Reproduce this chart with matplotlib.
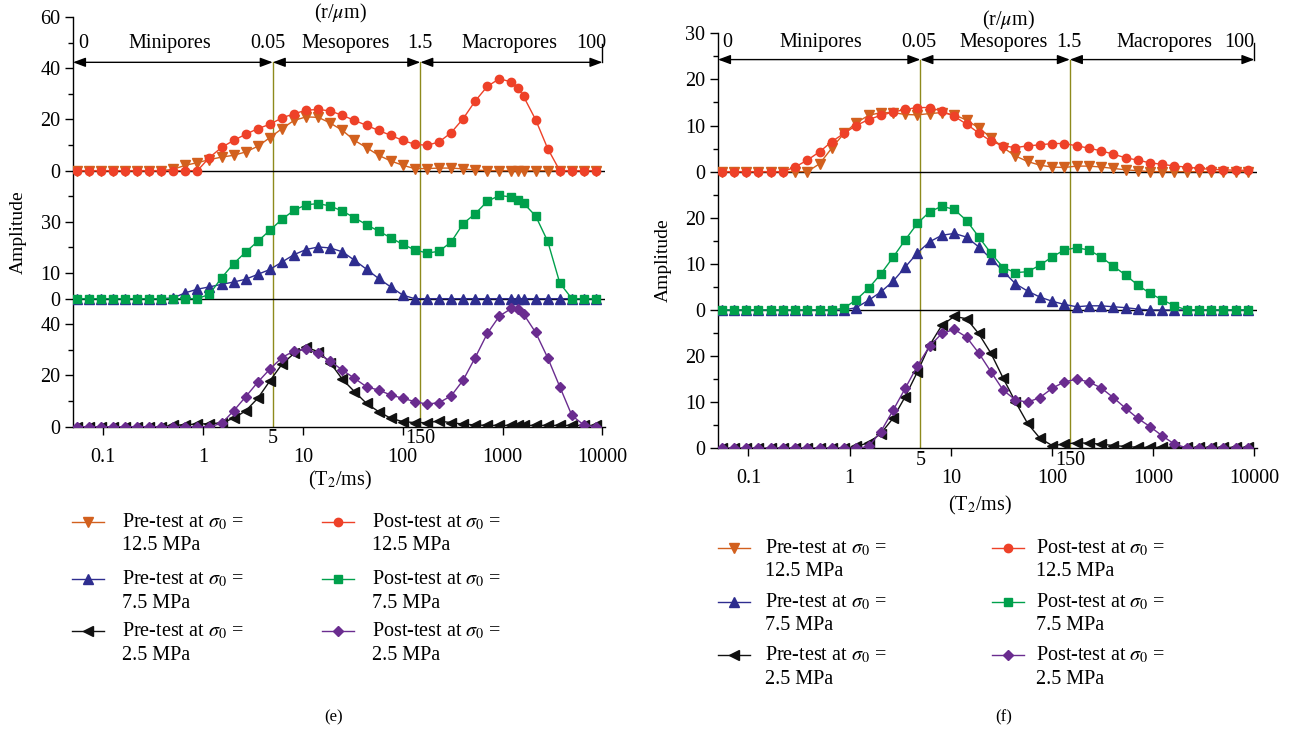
import numpy as np
import matplotlib
matplotlib.use("Agg")
import matplotlib.pyplot as plt
from matplotlib.lines import Line2D
from matplotlib.patches import ArrowStyle

plt.rcParams['font.family'] = ['Liberation Serif', 'DejaVu Serif']
plt.rcParams['mathtext.fontset'] = 'stix'
plt.rcParams['font.size'] = 14

FS_TICK = 14.5
FS_NOTE = 14.5
FS_LEG = 14.5

# ---------------- data ----------------
# T2 relaxation times (ms); panel (e) has one extra sample near 1400 ms
T2_e = [0.0543, 0.0718, 0.0948, 0.125, 0.166, 0.219, 0.289, 0.382, 0.504, 0.666,
        0.879, 1.16, 1.54, 2.03, 2.68, 3.54, 4.68, 6.18, 8.16, 10.8,
        14.3, 18.8, 24.9, 32.9, 43.4, 57.3, 75.8, 100, 132, 175,
        231, 305, 403, 532, 703, 929, 1227, 1423, 1621, 2142,
        2830, 3739, 4940, 6526, 8622]
T2_f = [0.0543, 0.0718, 0.0948, 0.125, 0.166, 0.219, 0.289, 0.382, 0.504, 0.666,
        0.879, 1.16, 1.54, 2.03, 2.68, 3.54, 4.68, 6.18, 8.16, 10.8,
        14.3, 18.8, 24.9, 32.9, 43.4, 57.3, 75.8, 100, 132, 175,
        231, 305, 403, 532, 703, 929, 1227, 1621, 2142,
        2830, 3739, 4940, 6526, 8622]

# panel (e) amplitudes
pre125_e = [0, 0, 0, 0, 0, 0, 0, 0, 0.5, 2.1, 3.1, 4.3, 5.3, 6.0, 7.3, 9.5, 12.9, 16.4,
            19.6, 21.0, 20.8, 18.6, 15.7, 11.8, 9.0, 6.0, 3.8, 2.1, 0.8, 0.8, 1.0, 1.0,
            0.7, 0.2, 0, 0, 0, 0, 0, 0, 0, 0, 0, 0, 0]
post125_e = [0, 0, 0, 0, 0, 0, 0, 0, 0, 0, 0, 5.1, 9.1, 11.8, 14.2, 16.4, 18.1, 20.6,
             22.2, 23.6, 23.9, 23.3, 21.6, 19.6, 17.7, 15.7, 13.8, 11.8, 10.3, 9.9, 11.2,
             14.8, 20.3, 27.2, 32.9, 35.9, 34.6, 32.4, 29.0, 19.9, 8.6, 0, 0, 0, 0]
pre75_e = [0, 0, 0, 0, 0, 0, 0, 0, 0.3, 2.3, 3.7, 4.6, 5.6, 6.5, 7.6, 9.5, 11.4, 14.3,
           17.2, 19.2, 20.2, 19.8, 18.3, 15.0, 11.5, 7.9, 4.6, 1.4, 0, 0, 0, 0, 0, 0,
           0, 0, 0, 0, 0, 0, 0, 0, 0, 0, 0]
post75_e = [0, 0, 0, 0, 0, 0, 0, 0, 0, 0, 0, 1.7, 8.2, 13.7, 18.2, 22.4, 26.7, 31.0,
            34.5, 36.7, 37.1, 36.2, 34.2, 31.6, 28.9, 26.4, 23.8, 21.2, 19.1, 17.8, 18.5,
            22.1, 29.3, 33.2, 38.0, 40.3, 39.7, 38.6, 37.3, 32.3, 22.4, 6.1, 0, 0, 0]
pre25_e = [0, 0, 0, 0, 0, 0, 0, 0, 0.5, 0.8, 1.0, 1.2, 1.5, 3.3, 6.2, 11.1, 17.9, 24.4,
           28.6, 31.0, 29.3, 25.0, 18.5, 13.7, 9.1, 5.9, 3.3, 2.0, 1.6, 1.6, 2.2, 1.6,
           1.0, 0.7, 0.5, 0.5, 0.5, 0.5, 0.5, 0.5, 0.5, 0.5, 0.5, 0.5, 0.5]
post25_e = [0, 0, 0, 0, 0, 0, 0, 0, 0, 0, 0, 0, 1.3, 6.2, 11.7, 17.4, 22.5, 27.0,
            29.6, 30.2, 28.6, 25.6, 22.1, 18.9, 15.6, 14.3, 12.4, 11.1, 9.8, 8.8, 9.4,
            12.0, 18.2, 27.0, 36.4, 43.2, 46.2, 45.8, 44.0, 36.8, 26.9, 15.6, 4.4, 0.6, 0]

# panel (f) amplitudes
pre125_f = [0, 0, 0, 0, 0, 0, 0, 0, 1.7, 5.1, 8.3, 10.6, 12.2, 12.8, 12.8, 12.4, 12.3,
            12.6, 12.8, 12.3, 11.2, 9.5, 7.4, 5.2, 3.4, 2.2, 1.4, 1.0, 0.9, 1.2, 1.2, 1.0,
            0.7, 0.4, 0.2, 0, 0, 0, 0, 0, 0, 0, 0, 0]
post125_f = [0, 0, 0, 0, 0, 0, 1.0, 2.5, 4.3, 6.5, 8.3, 10.0, 11.3, 12.2, 12.9, 13.5,
             13.9, 13.9, 13.1, 12.0, 10.3, 8.4, 6.6, 5.6, 5.2, 5.6, 5.8, 6.1, 6.1, 5.6,
             5.1, 4.5, 3.8, 3.0, 2.5, 1.9, 1.6, 1.2, 1.0, 0.7, 0.5, 0.4, 0.3, 0.3]
pre75_f = [0, 0, 0, 0, 0, 0, 0, 0, 0, 0, 0, 0.5, 2.1, 3.9, 6.2, 9.3, 12.4, 14.8, 16.2,
           16.6, 15.8, 13.7, 11.1, 8.4, 5.7, 4.1, 2.8, 1.9, 1.2, 0.7, 0.9, 0.9, 0.7, 0.5,
           0.2, 0, 0, 0, 0, 0, 0, 0, 0, 0]
post75_f = [0, 0, 0, 0, 0, 0, 0, 0, 0, 0, 0.4, 2.2, 4.7, 7.8, 11.4, 15.2, 18.8, 21.3,
            22.5, 21.8, 19.4, 15.9, 12.3, 9.2, 8.1, 8.3, 9.7, 11.5, 13.0, 13.5, 13.0, 11.5,
            9.5, 7.6, 5.4, 3.6, 2.2, 0.9, 0, 0, 0, 0, 0, 0]
pre25_f = [0, 0, 0, 0, 0, 0, 0, 0, 0, 0, 0, 0.4, 1.2, 3.2, 6.5, 11.2, 16.6, 22.4, 26.7,
           28.6, 28.1, 24.9, 20.6, 15.2, 10.1, 5.4, 2.2, 0.6, 0.9, 1.2, 1.1, 0.9, 0.6, 0.4,
           0.2, 0.2, 0.2, 0.2, 0.2, 0.2, 0.2, 0.2, 0.2, 0.2]
post25_f = [0, 0, 0, 0, 0, 0, 0, 0, 0, 0, 0, 0, 0.4, 3.6, 8.2, 13.0, 17.9, 22.2, 24.9,
            25.8, 24.1, 20.7, 16.6, 12.6, 10.5, 10.0, 11.0, 13.0, 14.4, 15.0, 14.4, 13.1,
            11.0, 8.7, 6.5, 4.7, 2.7, 0.9, 0.1, 0, 0, 0, 0, 0]

xticks = [0.1, 1, 10, 100, 1000, 10000]
xticklabels = ['0.1', '1', '10', '100', '1000', '10000']
pore_bounds_T2 = [5, 150]          # T2 (ms) at the pore-class boundaries
pore_bounds_r = ['0.05', '1.5']    # matching pore radii (um)
pore_names = ['Minipores', 'Mesopores', 'Macropores']

# stacking offsets of the three stress levels
offsets_e = [100, 50, 0]
offsets_f = [60, 30, 0]

ytick_pos_e = [0, 20, 40, 50, 60, 80, 100, 120, 140, 160]
ytick_lab_e = ['0', '20', '40', '0', '10', '30', '0', '20', '40', '60']
yminor_e = [10, 30, 70, 90, 110, 130, 150]
ytick_pos_f = [0, 10, 20, 30, 40, 50, 60, 70, 80, 90]
ytick_lab_f = ['0', '10', '20', '0', '10', '20', '0', '10', '20', '30']
yminor_f = [5, 15, 25, 35, 45, 55, 65, 75, 85]

# ---------------- styles ----------------
C_ORANGE = '#D2601E'
C_RED = '#EE4128'
C_BLUE = '#2E2D8F'
C_GREEN = '#00A04C'
C_BLACK = '#111111'
C_PURPLE = '#6A2C8F'
C_OLIVE = '#8E8A1C'

styles = {
    'pre125': dict(color=C_ORANGE, marker='v', ms=7),
    'post125': dict(color=C_RED, marker='o', ms=6),
    'pre75': dict(color=C_BLUE, marker='^', ms=7),
    'post75': dict(color=C_GREEN, marker='s', ms=5.5),
    'pre25': dict(color=C_BLACK, marker='<', ms=7),
    'post25': dict(color=C_PURPLE, marker='D', ms=5.5),
}

W, H = 1292, 735
fig = plt.figure(figsize=(W / 100, H / 100), dpi=100)


def fx(px):
    return px / W


def fy(py):
    return 1 - py / H


def draw_panel(ax, T2, series, offsets, ylim, tpos, tlab, tminor,
               arrow_y, text_y, title_y, xpos_text, title_x):
    keys = [('pre125', 'post125'), ('pre75', 'post75'), ('pre25', 'post25')]
    for (kpre, kpost), off in zip(keys, offsets):
        for k in (kpre, kpost):
            st = styles[k]
            y = np.asarray(series[k]) + off
            ax.plot(T2, y, color=st['color'], lw=1.0, marker=st['marker'],
                    ms=st['ms'], mec=st['color'], mfc=st['color'], zorder=3)
        if off > 0:
            ax.axhline(off, color='black', lw=1.0, zorder=2)
    ax.set_xscale('log')
    ax.set_xlim(0.05, 10600)
    ax.set_ylim(*ylim)
    ax.set_xticks(xticks)
    ax.set_xticklabels(xticklabels)
    ax.xaxis.set_minor_locator(matplotlib.ticker.NullLocator())
    ax.set_yticks(tpos)
    ax.set_yticklabels(tlab)
    ax.set_yticks(tminor, minor=True)
    ax.spines['top'].set_visible(False)
    ax.spines['right'].set_visible(False)
    for s in ('left', 'bottom'):
        ax.spines[s].set_linewidth(1.0)
    ax.tick_params(which='major', direction='out', length=6, width=1.0,
                   labelsize=FS_TICK, pad=3)
    ax.tick_params(axis='x', which='major', pad=9)
    ax.tick_params(which='minor', direction='out', length=3.5, width=1.0)

    # pore-class boundaries
    for b in pore_bounds_T2:
        ax.plot([b, b], [ylim[0], arrow_y], color=C_OLIVE, lw=1.0, zorder=1)
        ax.annotate(str(b), xy=(b, 0), xycoords=('data', 'axes fraction'),
                    xytext=(0, -2), textcoords='offset points',
                    ha='center', va='top', fontsize=FS_TICK)

    # pore range arrows
    edges = [0.05, pore_bounds_T2[0], pore_bounds_T2[1], 10000]
    astyle = ArrowStyle('<|-|>', head_length=0.75, head_width=0.28)
    for a, b in zip(edges[:-1], edges[1:]):
        ax.annotate('', xy=(b, arrow_y), xytext=(a, arrow_y),
                    arrowprops=dict(arrowstyle=astyle, color='black', lw=1.0,
                                    mutation_scale=10, shrinkA=0, shrinkB=0),
                    annotation_clip=False)
    ax.plot([10000, 10000], [arrow_y, text_y], color='black', lw=1.0,
            clip_on=False)

    labels = ['0', pore_names[0], pore_bounds_r[0], pore_names[1],
              pore_bounds_r[1], pore_names[2], '100']
    for lab, xp in zip(labels, xpos_text):
        ax.text(xp, text_y, lab, ha='center', va='center', fontsize=FS_NOTE,
                clip_on=False)
    ax.text(title_x, title_y, r'(r/$\mu$m)', ha='center', va='center',
            fontsize=FS_NOTE, clip_on=False)


series_e = dict(pre125=pre125_e, post125=post125_e, pre75=pre75_e,
                post75=post75_e, pre25=pre25_e, post25=post25_e)
series_f = dict(pre125=pre125_f, post125=post125_f, pre75=pre75_f,
                post75=post75_f, pre25=pre25_f, post25=post25_f)

ax1 = fig.add_axes([fx(73), fy(426.7), fx(605 - 73), (426.7 - 17) / H])
draw_panel(ax1, T2_e, series_e, offsets_e, (0, 160), ytick_pos_e, ytick_lab_e,
           yminor_e, arrow_y=142.3, text_y=149.5, title_y=161.5,
           xpos_text=[0.064, 0.47, 4.5, 27, 150, 1180, 7700], title_x=24)

ax2 = fig.add_axes([fx(718), fy(448.3), fx(1257 - 718), (448.3 - 33.3) / H])
draw_panel(ax2, T2_f, series_f, offsets_f, (0, 90), ytick_pos_f, ytick_lab_f,
           yminor_f, arrow_y=84.3, text_y=88.0, title_y=92.7,
           xpos_text=[0.062, 0.52, 4.8, 33, 146, 1280, 7100], title_x=37)

# axis titles
fig.text(fx(18), fy(232), 'Amplitude', rotation=90, ha='center', va='center', fontsize=14)
fig.text(fx(663), fy(260), 'Amplitude', rotation=90, ha='center', va='center', fontsize=14)
fig.text(fx(340), fy(480), r'(T$_2$/ms)', ha='center', va='center', fontsize=FS_NOTE)
fig.text(fx(980), fy(505), r'(T$_2$/ms)', ha='center', va='center', fontsize=FS_NOTE)

# captions
fig.text(fx(334), fy(717), '(e)', ha='center', va='center', fontsize=12)
fig.text(fx(1004), fy(717), '(f)', ha='center', va='center', fontsize=12)

# legends
legend_rows = [('pre125', 'post125', '12.5 MPa'),
               ('pre75', 'post75', '7.5 MPa'),
               ('pre25', 'post25', '2.5 MPa')]


def draw_legend(cols, rows_y, dy):
    for (kpre, kpost, stress), y in zip(legend_rows, rows_y):
        for k, (h0, h1, xt), head in zip((kpre, kpost), cols,
                                         ('Pre-test at ', 'Post-test at ')):
            st = styles[k]
            fig.add_artist(Line2D([fx(h0), fx((h0 + h1) / 2), fx(h1)],
                                  [fy(y)] * 3, transform=fig.transFigure,
                                  color=st['color'], lw=1.0, marker=st['marker'],
                                  ms=st['ms'], mec=st['color'], mfc=st['color'],
                                  markevery=[1]))
            fig.text(fx(xt), fy(y), head + r'$\sigma_0$ =', ha='left',
                     va='center', fontsize=FS_LEG)
            fig.text(fx(xt), fy(y + dy), stress, ha='left', va='center',
                     fontsize=FS_LEG)


draw_legend([(72, 104, 122), (322, 354, 372)], [522, 579, 631], 24)
draw_legend([(718, 750, 765), (992, 1024, 1036)], [548, 602, 655], 24)

fig.savefig('out.png', dpi=100)
